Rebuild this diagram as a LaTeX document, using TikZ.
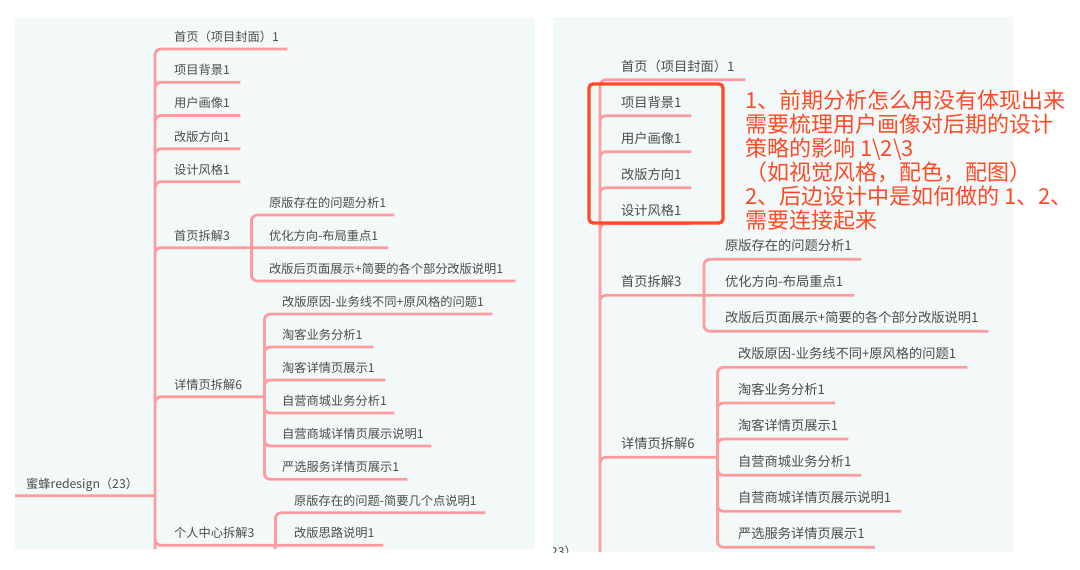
\documentclass[tikz,border=0pt]{standalone}
\usepackage{fontspec}
\setmainfont{Noto Sans CJK SC}
\definecolor{panelbg}{HTML}{F3F9F9}
\definecolor{linkpink}{HTML}{FF9A9E}
\definecolor{topicgray}{HTML}{4C4C4C}
\definecolor{markred}{HTML}{FF4A26}
\tikzset{
    topic/.style={anchor=south west, inner xsep=0pt, inner ysep=7.5pt, text depth=0pt, align=left, text=topicgray, font=\fontsize{12.25}{14}\selectfont},
    topicb/.style={topic, inner ysep=8.5pt, font=\fontsize{13.25}{15}\selectfont},
    link/.style={draw=linkpink, line width=2.8pt, rounded corners=6pt},
    markbox/.style={draw=markred, line width=3.4pt, rounded corners=4pt},
    notetext/.style={anchor=north west, inner sep=0pt, align=left, text=markred, font=\fontsize{22}{24}\selectfont}
}

\begin{document}
\begin{tikzpicture}[x=1pt, y=-1pt]
    \useasboundingbox (0,0) rectangle (1080,570);
    \fill[panelbg] (15,18) rectangle (535,549);
    \fill[panelbg] (553,17) rectangle (1013,552);

    \coordinate (lstart) at (15,495.7);
    \coordinate (lspine) at (155,495.7);
    \coordinate (lbottom) at (155,549);
    \coordinate (pbottom) at (275,549);
    \coordinate (rspine) at (600,552);

    \node[topic, text width=129pt] (lroot) at (26,495.7) {蜜蜂redesign（23）};
    \node[topic, text width=113pt] (l1) at (174,49) {首页（项目封面）1};
    \node[topic, text width=66pt] (l2) at (174,82.3) {项目背景1};
    \node[topic, text width=66pt] (l3) at (174,115.6) {用户画像1};
    \node[topic, text width=66pt] (l4) at (174,148.7) {改版方向1};
    \node[topic, text width=66pt] (l5) at (174,181.7) {设计风格1};
    \node[topic, text width=77pt] (l6) at (174,247.7) {首页拆解3};
    \node[topic, text width=90pt] (l7) at (174,396.7) {详情页拆解6};
    \node[topic, text width=101pt] (l8) at (174,545.3) {个人中心拆解3};

    \node[topic, text width=125pt] (l6a) at (269,215) {原版存在的问题分析1};
    \node[topic, text width=119pt] (l6b) at (269,247.7) {优化方向-布局重点1};
    \node[topic, text width=246pt] (l6c) at (269,281) {改版后页面展示+简要的各个部分改版说明1};

    \node[topic, text width=210pt] (l7a) at (282,314) {改版原因-业务线不同+原风格的问题1};
    \node[topic, text width=91pt] (l7b) at (282,347) {淘客业务分析1};
    \node[topic, text width=103pt] (l7c) at (282,380) {淘客详情页展示1};
    \node[topic, text width=112pt] (l7d) at (282,413) {自营商城业务分析1};
    \node[topic, text width=149pt] (l7e) at (282,446) {自营商城详情页展示说明1};
    \node[topic, text width=125pt] (l7f) at (282,479.3) {严选服务详情页展示1};

    \node[topic, text width=191pt] (l8a) at (294,512.7) {原版存在的问题-简要几个点说明1};
    \node[topic, text width=89pt] (l8b) at (294,545.3) {改版思路说明1};

    \path[link]
    (lstart) -- (lspine)
    (lspine) |- (l1.south east)
        (lspine) |- (l2.south east)
        (lspine) |- (l3.south east)
        (lspine) |- (l4.south east)
        (lspine) |- (l5.south east)
        (lspine) |- (l6.south east)
        (lspine) |- (l7.south east)
        (lspine) |- (l8.south east)
        (lspine) -- (lbottom)
    (l6.south east) |- (l6a.south east)
        (l6.south east) -- (l6b.south east)
        (l6.south east) |- (l6c.south east)
    (l7.south east) |- (l7a.south east)
        (l7.south east) |- (l7b.south east)
        (l7.south east) |- (l7c.south east)
        (l7.south east) |- (l7d.south east)
        (l7.south east) |- (l7e.south east)
        (l7.south east) |- (l7f.south east)
    (l8.south east) |- (l8a.south east)
        (l8.south east) -- (l8b.south east)
        (l8.south east) -- (pbottom);

    \begin{scope}
        \clip (553,17) rectangle (1013,552);
        \node[topic, anchor=east, inner sep=0pt] (rroot) at (577,551) {蜜蜂redesign（23）};
    \end{scope}

    \node[topicb, text width=124pt] (r1) at (621,79.7) {首页（项目封面）1};
    \node[topicb, text width=70pt] (r2) at (621,115.7) {项目背景1};
    \node[topicb, text width=70pt] (r3) at (621,151.7) {用户画像1};
    \node[topicb, text width=70pt] (r4) at (621,187.7) {改版方向1};
    \node[topicb, text width=70pt] (r5) at (621,223.7) {设计风格1};
    \node[topicb, text width=82.5pt] (r6) at (621,295.3) {首页拆解3};
    \node[topicb, text width=96pt] (r7) at (621,457.3) {详情页拆解6};

    \node[topicb, text width=136pt] (r6a) at (725,259.3) {原版存在的问题分析1};
    \node[topicb, text width=129pt] (r6b) at (725,295.3) {优化方向-布局重点1};
    \node[topicb, text width=263pt] (r6c) at (725,331.3) {改版后页面展示+简要的各个部分改版说明1};

    \node[topicb, text width=229pt] (r7a) at (738,367.3) {改版原因-业务线不同+原风格的问题1};
    \node[topicb, text width=97pt] (r7b) at (738,403) {淘客业务分析1};
    \node[topicb, text width=110pt] (r7c) at (738,439) {淘客详情页展示1};
    \node[topicb, text width=123pt] (r7d) at (738,475.3) {自营商城业务分析1};
    \node[topicb, text width=163pt] (r7e) at (738,511.3) {自营商城详情页展示说明1};
    \node[topicb, text width=136.5pt] (r7f) at (738,547.3) {严选服务详情页展示1};

    \path[link]
    (rspine) |- (r1.south east)
        (rspine) |- (r2.south east)
        (rspine) |- (r3.south east)
        (rspine) |- (r4.south east)
        (rspine) |- (r5.south east)
        (rspine) |- (r6.south east)
        (rspine) |- (r7.south east)
    (r6.south east) |- (r6a.south east)
        (r6.south east) -- (r6b.south east)
        (r6.south east) |- (r6c.south east)
    (r7.south east) |- (r7a.south east)
        (r7.south east) |- (r7b.south east)
        (r7.south east) |- (r7c.south east)
        (r7.south east) |- (r7d.south east)
        (r7.south east) |- (r7e.south east)
        (r7.south east) |- (r7f.south east);

    \node[markbox, minimum width=134pt, minimum height=139pt] (mark) at (656,153.5) {};
    \node[notetext] (note) at (745,90) {1、前期分析怎么用没有体现出来\\需要梳理用户画像对后期的设计\\策略的影响 1\textbackslash 2\textbackslash 3\\（如视觉风格，配色，配图）\\2、后边设计中是如何做的 1、2、\\需要连接起来};
\end{tikzpicture}
\end{document}
